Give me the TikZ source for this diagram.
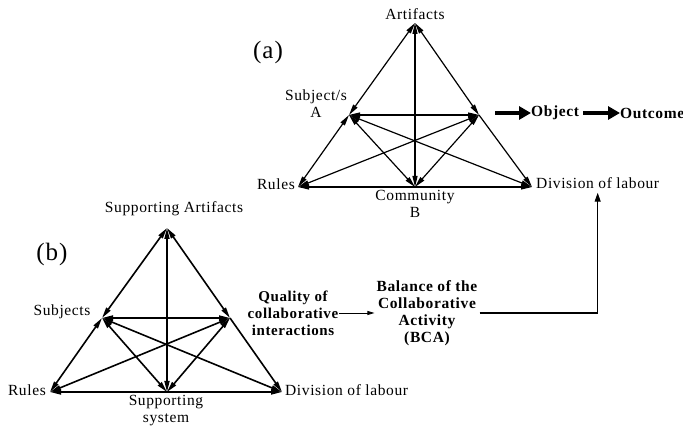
\documentclass[tikz,border=0pt]{standalone}
\usepackage{fontspec}
\setmainfont{Liberation Serif}[LetterSpace=4]
\usetikzlibrary{arrows.meta}
\begin{document}
\begin{tikzpicture}[x=1pt,y=-1pt,
  lbl/.style={font=\fontsize{15.5}{17}\selectfont, inner sep=1pt, align=center},
  blbl/.style={font=\fontsize{15.5}{17}\selectfont\bfseries, inner sep=1pt, align=center},
  big/.style={font=\fontsize{25}{28}\selectfont, inner sep=0pt},
  edgeA/.style={line width=1.2pt},
  edgeB/.style={line width=1.6pt},
  dbl/.style={{Triangle[length=11pt,width=5pt]}-{Triangle[length=11pt,width=5pt]}},
  sgl/.style={-{Triangle[length=11pt,width=5pt]}},
  fat/.style={line width=4.5pt,-{Triangle[length=12pt,width=13pt]}, shorten >=-1pt}
]
\useasboundingbox (0,0) rectangle (683,430);

% ---------- triangle (a) ----------
\coordinate (aT) at (415,23);
\coordinate (aS) at (349,115);
\coordinate (aO) at (479,115);
\coordinate (aR) at (298,187);
\coordinate (aC) at (415,187);
\coordinate (aD) at (532,187);

\node[big] (la) at (268,52) {(a)};
\node[lbl, anchor=south] (artA) at (415,21) {Artifacts};
\node[lbl] (subjA) at (316,104) {Subject/s\\A};
\node[lbl, anchor=east] (rulesA) at (296,184) {Rules};
\node[lbl, anchor=north] (commA) at (415,189) {Community\\B};
\node[lbl, anchor=west] (divA) at (535,183) {Division of labour};
\node[blbl, anchor=west] (obj) at (530,113) {Object};
\node[blbl, anchor=west] (outc) at (619,113) {Outcome};
\coordinate (fa1) at (495,113);
\draw[fat] (fa1) -- (obj.west);
\draw[fat] ([xshift=3pt]obj.east) -- (outc.west);

\begin{scope}[edgeA]
\draw[dbl] (aT) -- (aS);
\draw[dbl] (aS) -- (aR);
\draw[dbl] (aT) -- (aO);
\draw[sgl] (aO) -- (aD);
\draw[dbl] (aT) -- (aC);
\draw[dbl] (aS) -- (aO);
\draw[dbl] (aS) -- (aC);
\draw[dbl] (aO) -- (aC);
\draw[dbl] (aR) -- (aO);
\draw[dbl] (aS) -- (aD);
\draw[dbl] (aR) -- (aD);
\end{scope}

% ---------- triangle (b) ----------
\coordinate (bT) at (167,228);
\coordinate (bS) at (102,318);
\coordinate (bO) at (230,318);
\coordinate (bR) at (50,392);
\coordinate (bC) at (167,392);
\coordinate (bD) at (282,392);

\node[big] (lb) at (52,254) {(b)};
\node[lbl] (artB) at (174,209) {Supporting Artifacts};
\node[lbl] (subjB) at (62,312) {Subjects};
\node[lbl, anchor=east] (rulesB) at (47,390) {Rules};
\node[lbl, anchor=north] (sysB) at (166,394) {Supporting\\system};
\node[lbl, anchor=west] (divB) at (284,390) {Division of labour};

\begin{scope}[edgeB]
\draw[dbl] (bT) -- (bS);
\draw[dbl] (bS) -- (bR);
\draw[dbl] (bT) -- (bO);
\draw[sgl] (bO) -- (bD);
\draw[dbl] (bT) -- (bC);
\draw[dbl] (bS) -- (bO);
\draw[dbl] (bS) -- (bC);
\draw[dbl] (bO) -- (bC);
\draw[dbl] (bR) -- (bO);
\draw[dbl] (bS) -- (bD);
\draw[dbl] (bR) -- (bD);
\end{scope}

% ---------- quality / BCA ----------
\node[blbl, font=\fontsize{15}{17}\selectfont\bfseries] (qual) at (293,313) {Quality of\\collaborative\\interactions};
\node[blbl, inner sep=2pt] (bca) at (427,313) {Balance of the\\Collaborative\\Activity\\(BCA)};
\draw[line width=0.8pt, -{Triangle[length=7pt,width=4pt]}] (qual.east) -- (bca.west);
\draw[line width=1.1pt, -{Triangle[length=9pt,width=6pt]}] (bca.east) -| ([yshift=-3pt]divA.south);
\end{tikzpicture}
\end{document}
